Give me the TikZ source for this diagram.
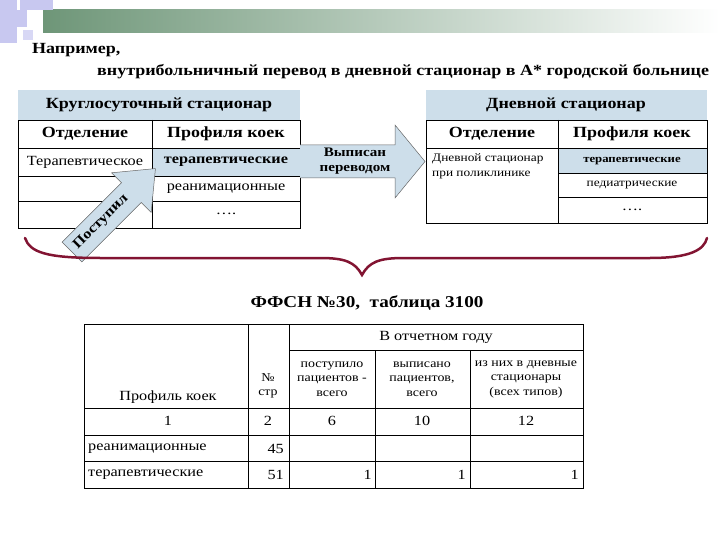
\documentclass[tikz,border=0pt]{standalone}
\usepackage{fontspec}
\setmainfont[FakeStretch=1.16]{Liberation Serif}
\begin{document}
\begin{tikzpicture}[x=1pt,y=-1pt,
  cell/.style={draw=black,line width=0.8pt},
  tx/.style={inner sep=0pt,font=\fontsize{14}{15}\selectfont},
  bx/.style={inner sep=0pt,font=\bfseries\fontsize{15.5}{16}\selectfont},
  sm/.style={inner sep=0pt,font=\fontsize{12}{14.5}\selectfont,align=center},
  arr/.style={draw=black!60,fill=hblue,line width=0.5pt}]
\definecolor{hblue}{RGB}{205,222,234}
\definecolor{lav}{RGB}{200,200,240}
\definecolor{gdark}{RGB}{110,150,120}
\definecolor{braceRed}{RGB}{130,20,50}
\useasboundingbox (0,0) rectangle (720,540);
% decoration
\shade[left color=gdark,right color=white] (43,10) rectangle (720,33);
\fill[lav] (0,0) rectangle (17,43);
\fill[lav] (20,0) rectangle (53,10);
\fill[lav] (10,10) rectangle (27,27);
\fill[lav!70] (23,30) rectangle (33,40);
% title
\node[bx,anchor=west] (t1) at (32,50) {Например,};
\node[bx,anchor=west] (t2) at (97,72) {внутрибольничный перевод в дневной стационар в А* городской больнице};
% left table
\fill[hblue] (18,90) rectangle (300,120);
\fill[hblue] (152,148) rectangle (300,176);
\node[bx] (lh) at (159,105) {Круглосуточный стационар};
\draw[cell] (18,120) rectangle (300,228);
\draw[cell] (152,120) -- (152,228);
\foreach \y in {148,176,201} \draw[cell] (18,\y) -- (300,\y);
\node[bx] (l1) at (85,134) {Отделение};
\node[bx] (l2) at (226,134) {Профиля коек};
\node[tx] (l3) at (85,162) {Терапевтическое};
\node[bx,font=\bfseries\fontsize{14}{15}\selectfont] (l4) at (226,162) {терапевтические};
\node[tx] (l5) at (226,189) {реанимационные};
\node[tx] (l6) at (226,214) {\dots.};
% arrow Выписан
\draw[arr] (300,145) -- (395,145) -- (395,125) -- (425,161.5) -- (395,198) -- (395,178) -- (300,178) ;
\node[bx,align=center,font=\bfseries\fontsize{13}{15}\selectfont] (va) at (355,161) {Выписан\\переводом};
% right table
\fill[hblue] (426,90) rectangle (707,120);
\fill[hblue] (558,148) rectangle (707,173);
\node[bx] (rh) at (566,105) {Дневной стационар};
\draw[cell] (426,120) rectangle (707,223);
\draw[cell] (558,120) -- (558,223);
\draw[cell] (426,148) -- (707,148);
\draw[cell] (558,173) -- (707,173);
\draw[cell] (558,197) -- (707,197);
\node[bx] (r1) at (492,134) {Отделение};
\node[bx] (r2) at (632,134) {Профиля коек};
\node[inner sep=0pt,font=\fontsize{11.5}{15}\selectfont,align=left,anchor=north west] (r3) at (432,153) {Дневной стационар\\при поликлинике};
\node[inner sep=0pt,font=\bfseries\fontsize{11}{12}\selectfont] (r4) at (632,161) {терапевтические};
\node[inner sep=0pt,font=\fontsize{11.5}{12}\selectfont] (r5) at (632,185) {педиатрические};
\node[tx] (r6) at (632,210) {\dots.};
% arrow Поступил
\begin{scope}[shift={(72,252)},rotate=45]
\draw[arr] (0,-14) -- (84,-14) -- (84,-28) -- (118,0) -- (84,28) -- (84,14) -- (0,14) -- cycle;
\end{scope}
\node[bx,rotate=45,font=\bfseries\fontsize{14}{15}\selectfont] (pa) at (101,222) {Поступил};
% brace
\draw[braceRed,line width=2.5pt,line cap=round] (25,238) .. controls (30,252) and (45,258) .. (100,258)
  -- (320,258) .. controls (345,258) and (355,262) .. (362,275)
  .. controls (369,262) and (379,258) .. (404,258) -- (650,258)
  .. controls (690,258) and (704,250) .. (707,238);
\node[bx,font=\bfseries\fontsize{16.5}{18}\selectfont] (ff) at (367,303) {ФФСН №30,\ \ таблица 3100};
% bottom table
\draw[cell,line width=0.6pt] (84,324) rectangle (583,488);
\draw[cell,line width=0.6pt] (289,350) -- (583,350);
\foreach \y in {408,435,461} \draw[cell,line width=0.6pt] (84,\y) -- (583,\y);
\draw[cell,line width=0.6pt] (248,324) -- (248,488);
\draw[cell,line width=0.6pt] (289,324) -- (289,488);
\draw[cell,line width=0.6pt] (375,350) -- (375,488);
\draw[cell,line width=0.6pt] (470,350) -- (470,488);
\node[tx] (b0) at (436,337) {В отчетном году};
\node[tx] (b1) at (168,397) {Профиль коек};
\node[sm] (b2) at (268,386) {№\\стр};
\node[sm] (b3) at (332,379) {поступило\\пациентов -\\всего};
\node[sm] (b4) at (422,379) {выписано\\пациентов,\\всего};
\node[sm] (b5) at (526,379) {из них в дневные\\стационары\\(всех типов)};
\node[tx] (c1) at (168,421) {1};
\node[tx] (c2) at (268,421) {2};
\node[tx] (c3) at (332,421) {6};
\node[tx] (c4) at (422,421) {10};
\node[tx] (c5) at (526,421) {12};
\node[tx,anchor=west] (d1) at (88,449) {реанимационные};
\node[tx,anchor=east] (d2) at (284,449) {45};
\node[tx,anchor=west] (e1) at (88,475) {терапевтические};
\node[tx,anchor=east] (e2) at (284,475) {51};
\node[tx,anchor=east] (e3) at (372,475) {1};
\node[tx,anchor=east] (e4) at (466,475) {1};
\node[tx,anchor=east] (e5) at (579,475) {1};
\end{tikzpicture}
\end{document}
